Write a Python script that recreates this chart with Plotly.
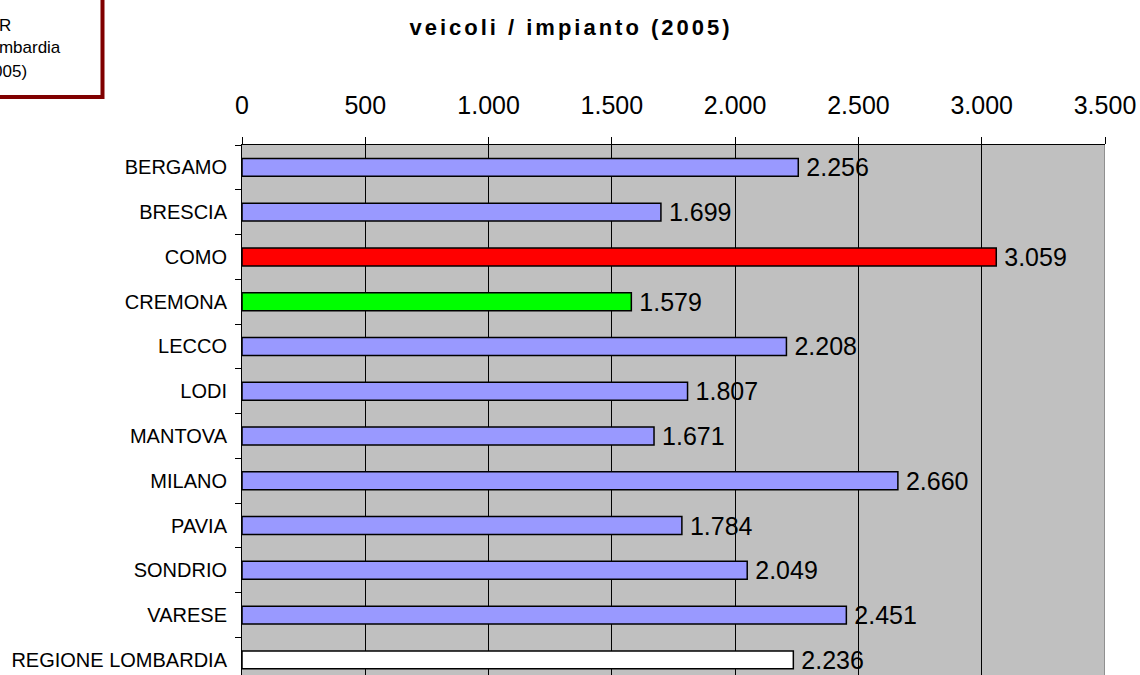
import plotly.graph_objects as go

# ---- data ----
categories = ["BERGAMO", "BRESCIA", "COMO", "CREMONA", "LECCO", "LODI", "MANTOVA",
              "MILANO", "PAVIA", "SONDRIO", "VARESE", "REGIONE LOMBARDIA"]
values = [2256, 1699, 3059, 1579, 2208, 1807, 1671, 2660, 1784, 2049, 2451, 2236]
bar_colors = ["#9999FF", "#9999FF", "#FF0000", "#00FF00", "#9999FF", "#9999FF",
              "#9999FF", "#9999FF", "#9999FF", "#9999FF", "#9999FF", "#FFFFFF"]
x_ticks = [0, 500, 1000, 1500, 2000, 2500, 3000, 3500]
title_text = "veicoli / impianto (2005)"
box_lines = ["R", "Lombardia", "(2005)"]

W, H = 1140, 675
# plot area in window pixels
PL, PR, PT, PB = 242, 1105, 145, 675
L, T, R, B = PL, PT, W - PR, H - PB
PW, PH = W - L - R, H - T - B

def px(xw):
    return (xw - L) / PW

def py(yw):
    return (H - yw - B) / PH

FONT = "Arial, 'Liberation Sans', sans-serif"

fig = go.Figure()
fig.add_trace(go.Bar(
    x=values, y=categories, orientation="h",
    marker=dict(color=bar_colors, line=dict(color="black", width=1.5)),
    width=0.4,
    text=values, texttemplate="\u2009%{x:,d}", textposition="outside",
    constraintext="none",
    textfont=dict(family=FONT, size=25, color="black"),
    cliponaxis=False, hoverinfo="skip",
))

# right border of plot area (grey)
fig.add_shape(type="line", xref="x", yref="paper", x0=3500, x1=3500, y0=0, y1=1,
              line=dict(color="#808080", width=1.5), layer="above")

# top-left text box (partially off-screen)
fig.add_shape(type="rect", xref="paper", yref="paper",
              x0=px(-300), x1=px(102.5), y0=py(97), y1=py(-50),
              line=dict(color="#800000", width=4), fillcolor="white")
for txt, xr, yc in zip(box_lines, [13, 63, 29], [25, 48, 72]):
    fig.add_annotation(xref="paper", yref="paper", x=px(xr), y=py(yc),
                       xanchor="right", yanchor="middle", showarrow=False,
                       text=txt, font=dict(family=FONT, size=17, color="black"))

# plot covers ~11.84 category bands (bottom band partly cut off)
n_bands = (PB - PT) / 44.77

fig.update_layout(
    width=W, height=H,
    margin=dict(l=L, r=R, t=T, b=B, pad=0),
    paper_bgcolor="white", plot_bgcolor="#C0C0C0",
    separators=",.",
    showlegend=False,
    title=dict(text='<span style="letter-spacing:3px">' + title_text + '</span>',
               x=571 / W, y=1 - 27 / H, xanchor="center", yanchor="middle",
               xref="container", yref="container",
               font=dict(family=FONT, size=22, color="black", weight="bold")),
    xaxis=dict(side="top", range=[0, 3500], tickvals=x_ticks, tickformat=",d",
               showgrid=True, gridcolor="black", gridwidth=1, zeroline=False,
               showline=True, linecolor="black", linewidth=1,
               ticks="outside", ticklen=7, tickcolor="black",
               ticklabelstandoff=13,
               tickfont=dict(family=FONT, size=25, color="black"), fixedrange=True),
    yaxis=dict(categoryorder="array", categoryarray=categories,
               range=[-0.5 + n_bands, -0.5], showgrid=False, zeroline=False,
               showline=True, linecolor="black", linewidth=1,
               ticks="outside", tickson="boundaries", ticklen=6, tickcolor="black",
               ticklabelstandoff=10,
               tickfont=dict(family=FONT, size=20, color="black"), fixedrange=True),
)

fig.write_html("out.html", config={"displayModeBar": False},
               post_script="document.body.style.margin='0';")
